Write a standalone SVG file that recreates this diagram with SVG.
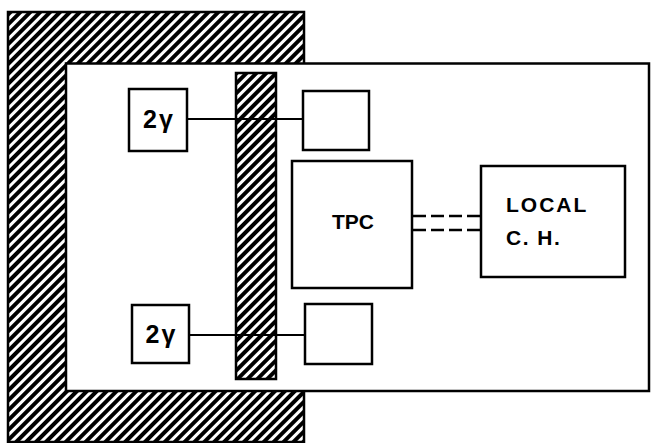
<svg xmlns="http://www.w3.org/2000/svg" width="651" height="443" viewBox="0 0 651 443">
<style>
.box{fill:#fff;stroke:#000;stroke-width:2.5}
.hatch{fill:url(#h);stroke:#000;stroke-width:2.5}
.ln{stroke:#000;stroke-width:2.2;fill:none}
.dash{stroke:#000;stroke-width:2.5;fill:none;stroke-dasharray:13 5}
.t{font-family:"Liberation Sans",Arial,sans-serif;font-weight:bold;fill:#000}
</style>
<defs>
<pattern id="h" patternUnits="userSpaceOnUse" width="7" height="7" patternTransform="rotate(45)">
<rect width="7" height="7" fill="#fff"/>
<rect x="0" y="0" width="4" height="7" fill="#000"/>
</pattern>
</defs>
<rect width="651" height="443" fill="#fff"/>
<g id="shield">
<rect class="hatch" x="8" y="12" width="296" height="430"/>
</g>
<g id="hall">
<rect class="box" x="66" y="63.5" width="583" height="327.5"/>
</g>
<g id="connectors">
<line class="ln" x1="187" y1="119" x2="303" y2="119"/>
<line class="ln" x1="189" y1="335" x2="305" y2="335"/>
<line class="dash" x1="413" y1="216" x2="481" y2="216"/>
<line class="dash" x1="413" y1="230" x2="481" y2="230"/>
</g>
<g id="wall">
<rect class="hatch" x="236" y="73" width="40" height="306"/>
<line class="ln" x1="236" y1="119" x2="276" y2="119"/>
<line class="ln" x1="236" y1="335" x2="276" y2="335"/>
</g>
<g id="gamma-top">
<rect class="box" x="129" y="89" width="58" height="62"/>
<text class="t" x="159" y="128" font-size="25" letter-spacing="2" text-anchor="middle">2γ</text>
</g>
<g id="det-top">
<rect class="box" x="303" y="91" width="66" height="59"/>
</g>
<g id="gamma-bottom">
<rect class="box" x="132" y="305" width="57" height="58"/>
<text class="t" x="161.5" y="343" font-size="25" letter-spacing="2" text-anchor="middle">2γ</text>
</g>
<g id="det-bottom">
<rect class="box" x="305" y="304" width="67" height="60"/>
</g>
<g id="tpc">
<rect class="box" x="292" y="161" width="120" height="127"/>
<text class="t" x="353" y="229" font-size="21" text-anchor="middle">TPC</text>
</g>
<g id="local-ch">
<rect class="box" x="481" y="166" width="144" height="111"/>
<text class="t" x="506" y="212" font-size="21" letter-spacing="2">LOCAL</text>
<text class="t" x="506" y="245" font-size="21" letter-spacing="1.5">C. H.</text>
</g>
</svg>
